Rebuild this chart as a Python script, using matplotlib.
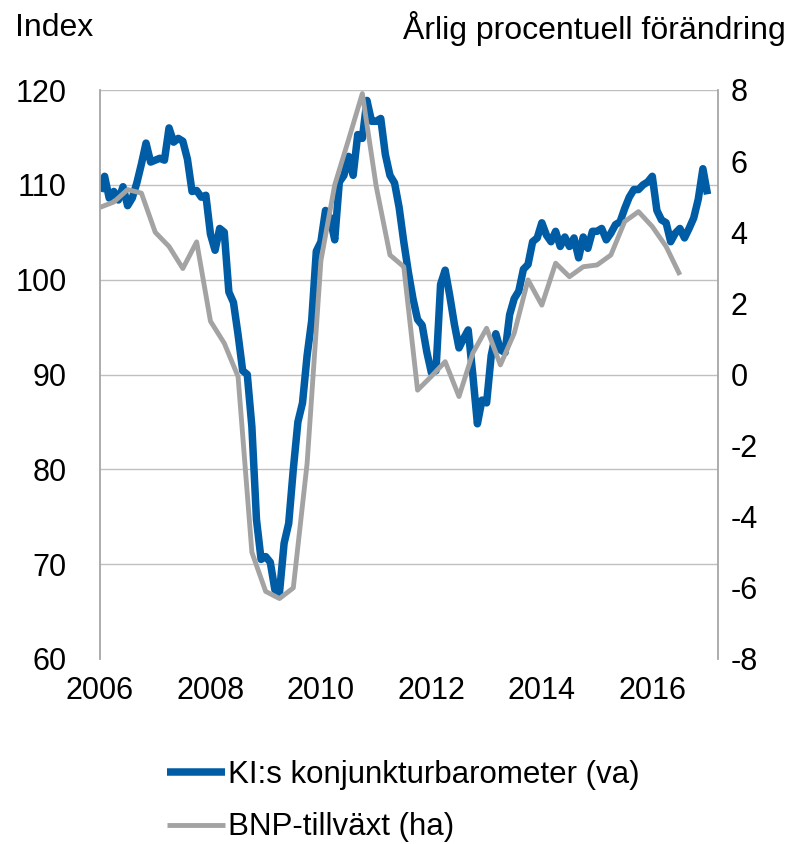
import numpy as np
import matplotlib.pyplot as plt

plt.rcParams['font.family'] = ['Liberation Sans', 'DejaVu Sans']
plt.rcParams['axes.unicode_minus'] = False

# KI:s konjunkturbarometer, monthly Jan 2006 - Jan 2017 (index, left axis)
ki_start = 2006
ki = [
    109.3, 110.9, 108.6, 109.3, 108.4, 109.8, 107.8, 108.6, 110.2, 112.2, 114.4, 112.4,   # 2006
    112.6, 112.8, 112.6, 116.0, 114.5, 114.9, 114.6, 112.7, 109.3, 109.4, 108.7, 108.9,   # 2007
    104.8, 103.1, 105.4, 105.0, 98.7, 97.6, 94.2, 90.4, 90.0, 84.5, 74.7, 70.5,           # 2008
    70.8, 70.2, 67.3, 67.0, 72.2, 74.3, 80.0, 85.0, 87.0, 92.0, 95.7, 103.0,              # 2009
    104.0, 107.3, 106.5, 104.2, 110.3, 111.0, 113.0, 111.0, 115.3, 114.9, 118.9, 116.7,   # 2010
    116.7, 117.0, 113.2, 111.0, 110.2, 107.6, 104.0, 100.8, 98.0, 95.8, 95.2, 92.4,       # 2011
    90.2, 90.4, 99.5, 101.0, 98.3, 95.3, 92.8, 93.8, 94.7, 90.0, 84.8, 87.3,              # 2012
    87.0, 92.0, 94.3, 92.6, 92.3, 96.3, 98.0, 98.8, 101.1, 101.6, 104.0, 104.4,           # 2013
    106.0, 104.7, 104.0, 105.1, 103.5, 104.5, 103.5, 104.4, 102.3, 104.5, 103.3, 105.1,   # 2014
    105.1, 105.4, 104.2, 104.9, 105.8, 106.1, 107.5, 108.7, 109.5, 109.5, 110.0, 110.3,   # 2015
    110.9, 107.3, 106.3, 106.0, 104.0, 104.9, 105.4, 104.4, 105.4, 106.5, 108.5, 111.7,   # 2016
    109.0,                                                                                # 2017
]

# BNP-tillväxt, quarterly 2006Q1 - 2016Q3 (annual % change, right axis)
bnp = [
    4.7, 4.85, 5.2, 5.1,      # 2006
    4.0, 3.6, 2.98, 3.73,     # 2007
    1.5, 0.88, -0.06, -5.0,   # 2008
    -6.1, -6.3, -6.0, -2.5,   # 2009
    3.2, 5.33, 6.6, 7.9,      # 2010
    5.3, 3.36, 3.03, -0.44,   # 2011
    -0.05, 0.36, -0.62, 0.6,  # 2012
    1.3, 0.27, 1.16, 2.66,    # 2013
    1.95, 3.13, 2.75, 3.03,   # 2014
    3.08, 3.36, 4.3, 4.58,    # 2015
    4.16, 3.6, 2.8,           # 2016
]

left_ticks = [60, 70, 80, 90, 100, 110, 120]
right_ticks = [-8, -6, -4, -2, 0, 2, 4, 6, 8]
year_ticks = [2006, 2008, 2010, 2012, 2014, 2016]

ki_x = ki_start + np.arange(len(ki)) / 12
bnp_x = ki_start + np.arange(len(bnp)) / 4

C_BLUE = "#005DA5"
C_GREY = "#A3A3A3"
C_GRID = "#C0C0C0"
C_AXIS = "#A6A6A6"
FS = 22      # tick labels
FS_T = 23    # titles
FS_L = 22.5  # legend

fig = plt.figure(figsize=(7.91, 8.44), dpi=100)
ax = fig.add_axes([100 / 791, 185 / 844, 618 / 791, 569 / 844])
ax2 = ax.twinx()

l1, = ax.plot(ki_x, ki, color=C_BLUE, lw=5.4, solid_joinstyle="round",
              solid_capstyle="butt", label="KI:s konjunkturbarometer (va)")
l2, = ax2.plot(bnp_x, bnp, color=C_GREY, lw=3.5, solid_joinstyle="round",
               solid_capstyle="butt", label="BNP-tillväxt (ha)")

ax.set_xlim(2006, 2017.19)
ax.set_ylim(60, 120)
ax2.set_ylim(-8, 8)
ax.set_yticks(left_ticks)
ax2.set_yticks(right_ticks)
ax.set_xticks(year_ticks)

# horizontal gridlines (none on the bottom edge)
for v in left_ticks[1:]:
    ax.axhline(v, color=C_GRID, lw=1.0, zorder=0)

for s in ["top", "bottom", "right"]:
    ax.spines[s].set_visible(False)
for s in ["top", "bottom", "left"]:
    ax2.spines[s].set_visible(False)
ax.spines["left"].set_color(C_AXIS)
ax.spines["left"].set_linewidth(1.3)
ax2.spines["right"].set_color(C_AXIS)
ax2.spines["right"].set_linewidth(1.3)

ax.tick_params(axis="y", length=0, pad=24, labelsize=FS)
ax.tick_params(axis="x", length=0, pad=12, labelsize=FS)
ax2.tick_params(axis="y", length=0, pad=9, labelsize=FS)

fig.text(15 / 791, 1 - 36 / 844, "Index", fontsize=FS_T, ha="left", va="baseline")
fig.text(786 / 791, 1 - 39 / 844, "Årlig procentuell förändring", fontsize=FS_T,
         ha="right", va="baseline")

fig.legend([l1, l2], [l1.get_label(), l2.get_label()], loc="upper left",
           bbox_to_anchor=(167 / 791, 1 - 760 / 844), frameon=False, fontsize=FS_L,
           handlelength=1.85, handletextpad=0.1, labelspacing=0.72,
           borderpad=0, borderaxespad=0)

fig.savefig("out.png", dpi=100)
